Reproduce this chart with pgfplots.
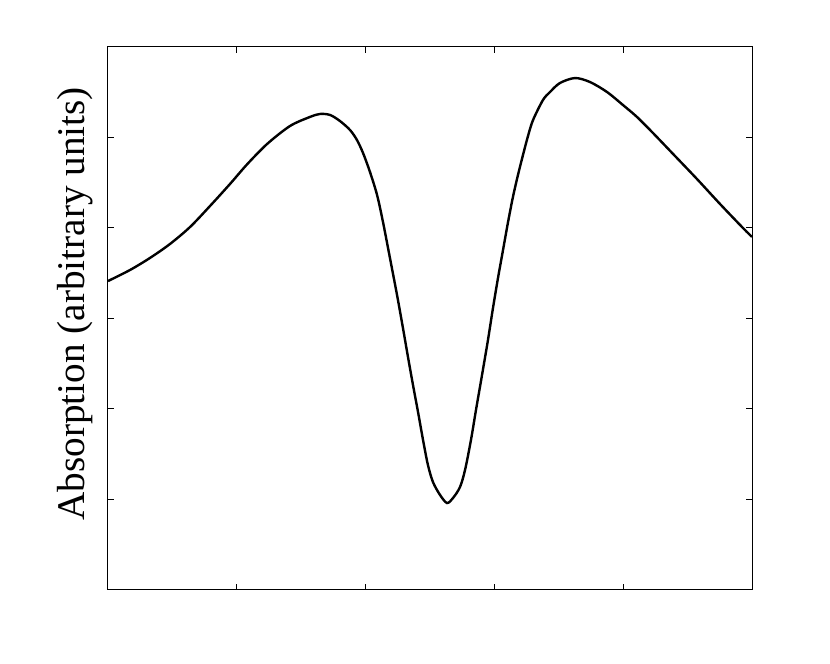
\documentclass[border=0pt]{standalone}
\usepackage{fontspec}
\setmainfont{Liberation Serif}
\usepackage{pgfplots}
\pgfplotsset{compat=1.18}
\usetikzlibrary{calc}

\begin{document}
\begin{tikzpicture}
\begin{axis}[
  scale only axis, width=322pt, height=271.5pt,
  xmin=0, xmax=5, ymin=0, ymax=6,
  xtick={1,2,3,4}, ytick={1,2,3,4,5},
  xticklabels={}, yticklabels={},
  tick align=inside, major tick length=3pt,
  axis line style={line width=0.5pt},
  every tick/.style={black, line width=0.5pt},
  ylabel={Absorption (arbitrary units)},
  ylabel style={font=\fontsize{19.6}{22}\selectfont, inner sep=0pt,
    at={(axis description cs:-0.022,0.527)}, anchor=south},
]
% points (pixel -> data)
\addplot[black, line width=1.2pt, smooth, tension=0.5] coordinates {
(0.000,3.414)(0.171,3.536)(0.326,3.669)(0.481,3.823)(0.637,4.011)
(0.792,4.243)(0.947,4.486)(1.079,4.702)(1.235,4.928)
(1.413,5.127)(1.568,5.227)(1.646,5.260)(1.724,5.249)(1.801,5.182)
(1.879,5.083)(1.933,4.972)(1.980,4.829)(2.034,4.619)(2.089,4.365)
(2.135,4.066)(2.189,3.669)(2.244,3.260)(2.290,2.895)(2.329,2.575)
(2.368,2.265)(2.407,1.967)(2.446,1.657)(2.484,1.381)(2.523,1.193)
(2.578,1.050)(2.632,0.961)(2.679,1.017)(2.733,1.138)(2.772,1.326)
(2.818,1.657)(2.857,1.989)(2.904,2.376)(2.950,2.762)(2.989,3.116)
(3.028,3.448)(3.067,3.757)(3.106,4.066)(3.144,4.343)(3.183,4.586)
(3.222,4.807)(3.261,5.017)(3.300,5.193)(3.377,5.414)(3.432,5.503)
(3.509,5.602)(3.626,5.657)(3.742,5.613)(3.874,5.503)(3.998,5.359)
(4.107,5.227)(4.231,5.050)(4.402,4.796)(4.573,4.541)(4.752,4.265)
(4.930,4.000)(5.000,3.901)
};
\end{axis}
\path ($(current axis.south west)+(-54pt,-37pt)$) rectangle ($(current axis.north east)+(39pt,23.5pt)$);
\end{tikzpicture}
\end{document}
